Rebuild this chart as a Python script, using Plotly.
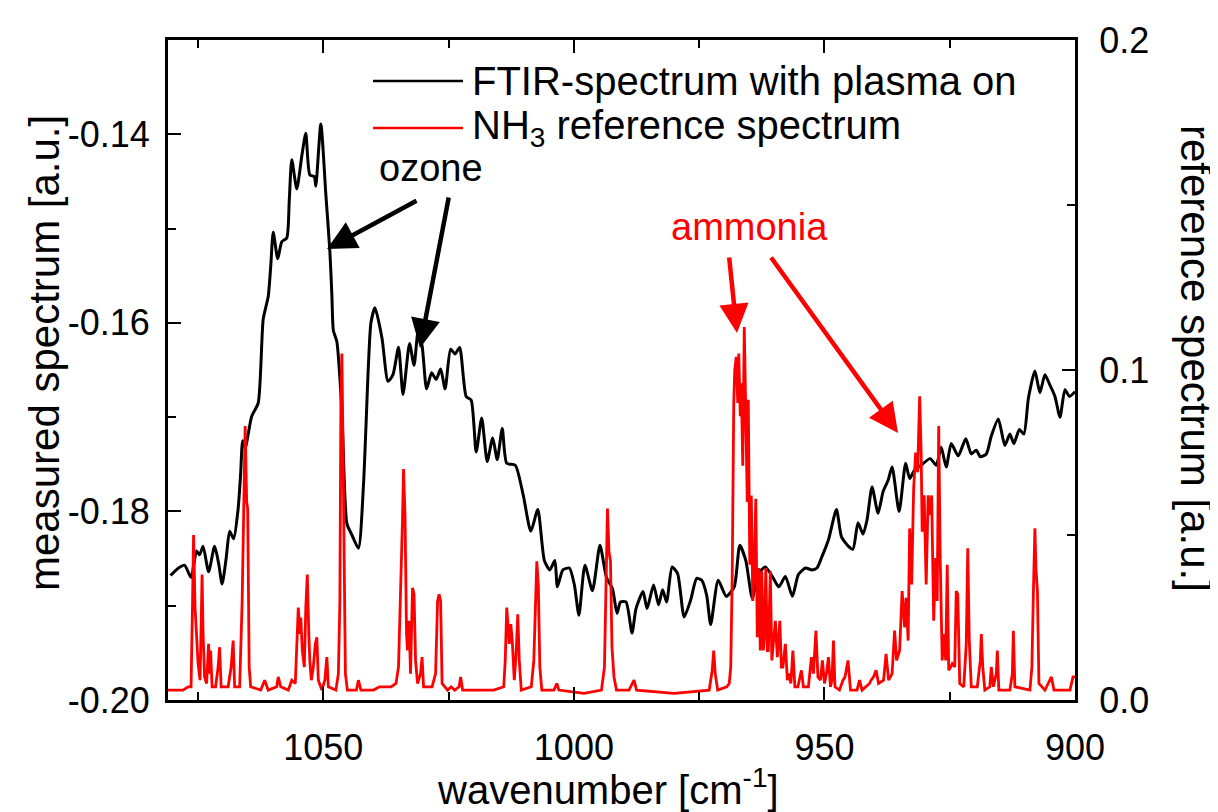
import plotly.graph_objects as go

# measured FTIR spectrum (plasma on), left axis
ftir_wn = [1080.5, 1078.9, 1077.7, 1076.4, 1075.3, 1074.7, 1074.0, 1072.9, 1071.7, 1070.9,
           1070.2, 1069.4, 1068.7, 1067.9, 1067.0, 1066.5, 1066.1, 1065.6, 1064.3, 1063.0,
           1062.0, 1061.0, 1060.5, 1060.0, 1059.1, 1058.3, 1057.3, 1056.8, 1056.3, 1055.3,
           1054.3, 1053.5, 1052.7, 1051.8, 1051.5, 1050.5, 1049.5, 1048.7, 1048.3, 1048.0,
           1047.3, 1046.3, 1045.3, 1044.3, 1043.0, 1042.0, 1041.0, 1040.5, 1039.7, 1038.3,
           1037.1, 1036.1, 1035.0, 1034.1, 1032.8, 1031.9, 1031.1, 1030.3, 1029.4, 1028.4,
           1027.5, 1026.6, 1025.7, 1024.6, 1023.7, 1022.8, 1021.5, 1020.5, 1019.5, 1018.4,
           1017.3, 1016.2, 1015.3, 1014.3, 1013.4, 1011.7, 1010.1, 1008.6, 1007.2, 1005.9,
           1004.8, 1003.8, 1003.3, 1002.2, 1000.9, 999.9, 999.0, 997.8, 996.3, 994.8,
           993.5, 992.3, 991.4, 990.7, 989.6, 988.4, 987.6, 986.2, 985.4, 984.1,
           983.1, 982.3, 981.5, 980.4, 979.3, 978.0, 976.7, 975.5, 974.5, 973.5,
           972.7, 971.2, 969.6, 968.0, 966.9, 965.7, 964.4, 963.2, 961.8, 960.4,
           959.1, 957.8, 956.4, 955.2, 953.8, 952.5, 951.5, 950.5, 949.2, 947.6,
           946.6, 945.2, 944.3, 943.3, 942.3, 941.5, 940.5, 939.3, 938.3, 937.3,
           936.5, 935.1, 933.8, 933.0, 932.0, 930.7, 928.9, 927.7, 926.7, 925.7,
           924.7, 923.3, 921.8, 920.7, 919.7, 918.9, 917.7, 916.7, 915.3, 914.0,
           913.0, 912.2, 911.1, 910.2, 909.3, 908.0, 907.0, 906.0, 905.0, 904.0,
           903.0, 902.0, 901.1, 900.0]
ftir_val = [-0.1868, -0.1860, -0.1857, -0.1870, -0.1842, -0.1846, -0.1837, -0.1864, -0.1837, -0.1855,
            -0.1877, -0.1850, -0.1821, -0.1829, -0.1797, -0.1760, -0.1725, -0.1733, -0.1699, -0.1685,
            -0.1596, -0.1572, -0.1540, -0.1504, -0.1532, -0.1514, -0.1510, -0.1470, -0.1427, -0.1458,
            -0.1423, -0.1399, -0.1443, -0.1445, -0.1455, -0.1389, -0.1464, -0.1524, -0.1570, -0.1608,
            -0.1620, -0.1693, -0.1813, -0.1825, -0.1839, -0.1773, -0.1644, -0.1600, -0.1584, -0.1616,
            -0.1662, -0.1655, -0.1626, -0.1676, -0.1622, -0.1645, -0.1610, -0.1624, -0.1670, -0.1653,
            -0.1660, -0.1649, -0.1670, -0.1628, -0.1633, -0.1626, -0.1678, -0.1682, -0.1737, -0.1701,
            -0.1747, -0.1722, -0.1745, -0.1712, -0.1749, -0.1751, -0.1783, -0.1821, -0.1798, -0.1852,
            -0.1862, -0.1852, -0.1880, -0.1862, -0.1860, -0.1878, -0.1910, -0.1857, -0.1884, -0.1836,
            -0.1870, -0.1882, -0.1908, -0.1896, -0.1896, -0.1929, -0.1903, -0.1885, -0.1903, -0.1878,
            -0.1899, -0.1883, -0.1896, -0.1859, -0.1866, -0.1912, -0.1894, -0.1871, -0.1873, -0.1889,
            -0.1920, -0.1873, -0.1890, -0.1880, -0.1836, -0.1852, -0.1892, -0.1866, -0.1859, -0.1869,
            -0.1880, -0.1869, -0.1890, -0.1867, -0.1860, -0.1862, -0.1860, -0.1848, -0.1830, -0.1798,
            -0.1827, -0.1837, -0.1840, -0.1812, -0.1824, -0.1809, -0.1774, -0.1802, -0.1779, -0.1767,
            -0.1753, -0.1800, -0.1749, -0.1765, -0.1756, -0.1751, -0.1744, -0.1751, -0.1732, -0.1753,
            -0.1728, -0.1741, -0.1723, -0.1739, -0.1735, -0.1742, -0.1739, -0.1720, -0.1702, -0.1730,
            -0.1718, -0.1728, -0.1713, -0.1718, -0.1680, -0.1651, -0.1674, -0.1655, -0.1666, -0.1678,
            -0.1700, -0.1671, -0.1678, -0.1673]

# NH3 reference spectrum, right axis
nh3_wn = [1081.0, 1078.0, 1077.0, 1076.4, 1076.1, 1075.9, 1075.6, 1075.3, 1075.0, 1074.6,
          1074.3, 1074.2, 1074.0, 1073.7, 1073.3, 1072.9, 1072.7, 1072.5, 1072.2, 1071.5,
          1071.0, 1070.7, 1070.4, 1069.0, 1068.4, 1068.0, 1067.7, 1066.7, 1066.2, 1065.9,
          1065.6, 1065.3, 1065.1, 1064.8, 1064.5, 1062.5, 1061.7, 1061.0, 1059.3, 1059.0,
          1058.5, 1057.0, 1056.3, 1055.6, 1055.2, 1055.0, 1054.7, 1054.5, 1054.2, 1053.8,
          1053.5, 1053.2, 1052.9, 1052.7, 1052.4, 1052.0, 1051.6, 1051.3, 1051.0, 1050.3,
          1049.7, 1049.3, 1049.0, 1047.5, 1047.0, 1046.7, 1046.5, 1046.3, 1046.1, 1045.9,
          1045.6, 1045.2, 1043.4, 1043.0, 1042.5, 1040.0, 1038.8, 1036.5, 1035.5, 1035.0,
          1034.6, 1034.2, 1034.0, 1033.7, 1033.4, 1033.2, 1032.9, 1032.6, 1032.2, 1031.9,
          1031.6, 1031.2, 1030.6, 1030.3, 1030.0, 1028.3, 1027.6, 1027.2, 1026.9, 1026.6,
          1026.3, 1025.2, 1024.5, 1023.8, 1022.9, 1022.6, 1022.2, 1019.0, 1016.0, 1014.0,
          1013.7, 1013.4, 1013.1, 1012.9, 1012.6, 1012.3, 1011.9, 1011.5, 1011.2, 1010.9,
          1010.5, 1008.5, 1008.0, 1007.7, 1007.4, 1007.1, 1006.8, 1006.4, 1004.0, 1003.4,
          1003.0, 998.0, 994.5, 993.9, 993.6, 993.3, 993.0, 992.7, 992.4, 992.0,
          991.5, 989.0, 988.0, 987.5, 980.0, 973.0, 972.4, 972.1, 971.8, 971.3,
          969.5, 969.0, 968.7, 968.4, 968.1, 967.9, 967.6, 967.3, 967.1, 966.8,
          966.6, 966.3, 966.0, 965.7, 965.4, 965.2, 964.9, 964.6, 964.3, 964.0,
          963.7, 963.4, 963.1, 962.8, 962.5, 962.2, 962.0, 961.7, 961.4, 961.2,
          960.8, 960.5, 960.3, 959.8, 959.4, 958.9, 958.6, 958.3, 957.8, 957.4,
          957.1, 956.7, 956.3, 955.9, 955.3, 954.6, 954.2, 953.2, 952.6, 952.2,
          951.7, 951.3, 950.8, 950.4, 950.0, 949.6, 949.2, 948.8, 948.5, 948.2,
          947.9, 947.0, 946.3, 945.9, 945.3, 944.8, 943.5, 943.0, 942.5, 941.0,
          940.7, 940.2, 939.7, 939.2, 938.2, 937.7, 937.2, 936.5, 936.0, 935.6,
          935.0, 934.5, 934.0, 933.7, 933.3, 933.0, 932.6, 932.2, 931.8, 931.4,
          931.0, 930.7, 930.5, 930.1, 929.7, 929.3, 928.9, 928.6, 928.2, 927.8,
          927.5, 927.2, 926.9, 926.5, 926.2, 925.8, 925.5, 925.2, 924.8, 924.5,
          924.0, 923.7, 923.4, 923.0, 922.2, 921.7, 921.4, 921.1, 920.7, 919.5,
          918.9, 918.7, 918.4, 918.0, 917.0, 916.7, 916.3, 915.7, 915.5, 915.2,
          913.0, 912.5, 912.3, 912.0, 909.0, 908.6, 908.3, 908.0, 907.8, 907.5,
          907.2, 906.0, 904.7, 904.2, 902.0, 901.0, 900.4, 900.0]
nh3_val = [0.003, 0.003, 0.004, 0.004, 0.030, 0.050, 0.028, 0.020, 0.011, 0.006,
           0.030, 0.038, 0.020, 0.007, 0.005, 0.017, 0.008, 0.015, 0.004, 0.004,
           0.010, 0.016, 0.004, 0.004, 0.010, 0.018, 0.004, 0.004, 0.030, 0.060,
           0.083, 0.060, 0.058, 0.010, 0.004, 0.003, 0.006, 0.003, 0.004, 0.007,
           0.004, 0.003, 0.006, 0.005, 0.025, 0.028, 0.020, 0.025, 0.015, 0.010,
           0.028, 0.038, 0.020, 0.012, 0.006, 0.010, 0.017, 0.019, 0.006, 0.003,
           0.006, 0.013, 0.004, 0.003, 0.008, 0.030, 0.090, 0.105, 0.080, 0.050,
           0.008, 0.003, 0.003, 0.006, 0.003, 0.003, 0.004, 0.004, 0.005, 0.010,
           0.030, 0.055, 0.070, 0.056, 0.020, 0.015, 0.024, 0.008, 0.034, 0.032,
           0.012, 0.005, 0.008, 0.013, 0.004, 0.004, 0.008, 0.030, 0.032, 0.030,
           0.005, 0.003, 0.004, 0.003, 0.004, 0.007, 0.003, 0.003, 0.003, 0.004,
           0.012, 0.028, 0.020, 0.017, 0.023, 0.018, 0.006, 0.015, 0.026, 0.012,
           0.003, 0.004, 0.012, 0.030, 0.042, 0.035, 0.010, 0.003, 0.003, 0.005,
           0.003, 0.002, 0.003, 0.010, 0.040, 0.058, 0.045, 0.042, 0.016, 0.007,
           0.003, 0.003, 0.006, 0.003, 0.002, 0.003, 0.009, 0.015, 0.008, 0.003,
           0.004, 0.005, 0.010, 0.038, 0.090, 0.100, 0.104, 0.090, 0.105, 0.086,
           0.096, 0.071, 0.113, 0.091, 0.060, 0.091, 0.041, 0.062, 0.030, 0.040,
           0.061, 0.019, 0.040, 0.015, 0.039, 0.015, 0.019, 0.040, 0.015, 0.015,
           0.039, 0.012, 0.015, 0.024, 0.013, 0.024, 0.010, 0.010, 0.017, 0.006,
           0.008, 0.005, 0.015, 0.004, 0.004, 0.009, 0.004, 0.004, 0.013, 0.008,
           0.021, 0.007, 0.006, 0.012, 0.005, 0.008, 0.013, 0.004, 0.006, 0.018,
           0.004, 0.003, 0.006, 0.007, 0.012, 0.003, 0.003, 0.006, 0.003, 0.005,
           0.006, 0.007, 0.009, 0.005, 0.006, 0.014, 0.006, 0.008, 0.021, 0.012,
           0.015, 0.033, 0.022, 0.031, 0.018, 0.052, 0.035, 0.064, 0.075, 0.069,
           0.092, 0.075, 0.051, 0.062, 0.035, 0.062, 0.056, 0.062, 0.024, 0.043,
           0.030, 0.083, 0.043, 0.012, 0.020, 0.012, 0.041, 0.009, 0.010, 0.011,
           0.010, 0.033, 0.032, 0.005, 0.004, 0.017, 0.046, 0.018, 0.004, 0.004,
           0.012, 0.020, 0.010, 0.003, 0.004, 0.010, 0.004, 0.008, 0.015, 0.003,
           0.003, 0.008, 0.021, 0.004, 0.003, 0.010, 0.033, 0.052, 0.040, 0.033,
           0.005, 0.003, 0.007, 0.003, 0.003, 0.003, 0.007, 0.007]

# tick labels (hyphen minus, as in the original figure)
y_tickvals = [-0.20, -0.18, -0.16, -0.14]
y_ticktext = ["-0.20", "-0.18", "-0.16", "-0.14"]
y2_tickvals = [0.0, 0.1, 0.2]
y2_ticktext = ["0.0", "0.1", "0.2"]

FONT = "Arial, Liberation Sans, sans-serif"

fig = go.Figure()
fig.add_trace(go.Scatter(x=ftir_wn, y=ftir_val, mode="lines",
                         line=dict(color="black", width=3, shape="spline", smoothing=0.6),
                         yaxis="y", name="FTIR-spectrum with plasma on", showlegend=False))
fig.add_trace(go.Scatter(x=nh3_wn, y=nh3_val, mode="lines",
                         line=dict(color="#ff0000", width=2.8), yaxis="y2",
                         name="NH3 reference spectrum", showlegend=False))

axis_common = dict(showline=True, linecolor="black", linewidth=3, ticks="inside",
                   tickcolor="black", tickwidth=2, ticklen=13, showgrid=False,
                   zeroline=False, tickfont=dict(family=FONT, size=36, color="black"))
minor_ticks = dict(ticks="inside", ticklen=8, tickwidth=2, tickcolor="black")

fig.update_layout(
    width=1218, height=812,
    margin=dict(l=160, r=151, t=32, b=120),
    paper_bgcolor="white", plot_bgcolor="white",
    xaxis=dict(range=[1081, 900], tick0=900, dtick=50, mirror="ticks",
               minor=dict(dtick=25, **minor_ticks), ticklabelstandoff=14, **axis_common),
    yaxis=dict(range=[-0.2, -0.13], tickvals=y_tickvals, ticktext=y_ticktext, mirror=True,
               minor=dict(dtick=0.01, **minor_ticks), ticklabelstandoff=8, **axis_common),
    yaxis2=dict(range=[0, 0.2], tickvals=y2_tickvals, ticktext=y2_ticktext,
                overlaying="y", side="right",
                minor=dict(dtick=0.05, **minor_ticks), ticklabelstandoff=14, **axis_common),
)


def px_x(p):
    return (p - 160) / 907


def px_y(p):
    return (692 - p) / 660


texts = [
    ("wavenumber [cm<sup>-1</sup>]", 600, 779, 0, 40, "black", "center"),
    ("measured spectrum [a.u.]", 36, 345, -90, 42, "black", "center"),
    ("reference spectrum [a.u.]", 1188, 350, 90, 42, "black", "center"),
    ("FTIR-spectrum with plasma on", 462, 73, 0, 40, "black", "left"),
    ("NH<sub>3</sub> reference spectrum", 462, 120, 0, 40, "black", "left"),
    ("ozone", 423, 160, 0, 38, "black", "center"),
    ("ammonia", 741, 219, 0, 38, "#ff0000", "center"),
]
annotations = []
for txt, x, y, ang, size, col, xa in texts:
    annotations.append(dict(text=txt, x=px_x(x), y=px_y(y), xref="paper", yref="paper",
                            xanchor=xa, yanchor="middle", textangle=ang, showarrow=False,
                            font=dict(family=FONT, size=size, color=col)))

arrows = [
    (319, 241, 410, 192, "black"),
    (412, 340, 441, 188, "black"),
    (729, 325, 721, 248, "#ff0000"),
    (890, 425, 762, 248, "#ff0000"),
]
for hx, hy, tx, ty, col in arrows:
    annotations.append(dict(x=px_x(hx), y=px_y(hy), xref="paper", yref="paper", text="",
                            showarrow=True, ax=tx - hx, ay=ty - hy, arrowhead=2, arrowsize=1.3,
                            arrowwidth=4.5, arrowcolor=col, standoff=0))
fig.update_layout(annotations=annotations)

# hand-drawn legend samples
fig.add_shape(type="line", xref="paper", yref="paper", x0=px_x(365), x1=px_x(455),
              y0=px_y(73), y1=px_y(73), line=dict(color="black", width=2.5))
fig.add_shape(type="line", xref="paper", yref="paper", x0=px_x(365), x1=px_x(455),
              y0=px_y(120), y1=px_y(120), line=dict(color="#ff0000", width=2.5))

fig.write_html("out.html")
